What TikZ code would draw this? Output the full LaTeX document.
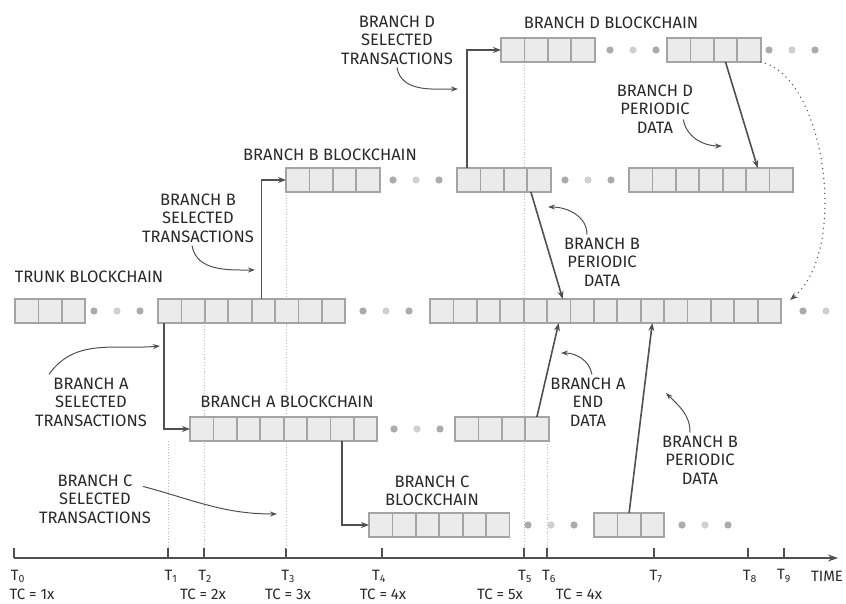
\documentclass[tikz,border=0pt]{standalone}
\usepackage{fontspec}
\setmainfont{Fira Sans}
\usetikzlibrary{arrows.meta}
\definecolor{ink}{HTML}{282828}
\definecolor{wire}{HTML}{505050}
\definecolor{cellfill}{HTML}{EBEBEB}
\definecolor{celledge}{HTML}{A4A4A4}
\definecolor{dotdark}{HTML}{ABABAB}
\definecolor{dotlight}{HTML}{D0D0D0}
\definecolor{guidegray}{HTML}{BDBDBD}

\begin{document}
\begin{tikzpicture}[x=1pt, y=-1pt,
  cell/.style={fill=cellfill, minimum width=23.4pt, minimum height=24pt, inner sep=0pt, outer sep=0pt},
  edge/.style={draw=celledge, line width=1.8pt},
  lab/.style={text=ink, align=center, inner sep=0pt, font=\fontsize{16.5}{18.5}\selectfont},
  tlab/.style={text=ink, inner sep=0pt, font=\fontsize{15}{16}\selectfont},
  link/.style={draw=wire, line width=1.6pt, -{Stealth[length=8pt,width=6pt]}},
  note/.style={draw=wire, line width=1pt, -{Stealth[length=7pt,width=5pt]}},
  guide/.style={draw=guidegray, line width=0.8pt, dotted}]
  \useasboundingbox (0,0) rectangle (846,604);

  % time axis
  \coordinate (ax0) at (14,558);
  \coordinate (ax1) at (838,558);
  \draw[draw=wire, line width=1.5pt, -{Stealth[length=10pt,width=7pt]}] (ax0) -- (ax1);
  \foreach \x/\lx [count=\i from 0] in {14/18, 168/171, 204/205, 286/288, 382/379, 524/525, 547/549, 654/656, 748/750, 784/784} {
    \coordinate (k\i) at (\x,548);
    \draw[draw=wire, line width=1.5pt] (k\i) -- (\x,558);
    \node[tlab] (tk\i) at (\lx,576) {T\textsubscript{\i}};
  }
  \node[tlab] (time) at (827,576) {TIME};
  \node[tlab] (tc1) at (32,594) {TC = 1x};
  \node[tlab] (tc2) at (203,594) {TC = 2x};
  \node[tlab] (tc3) at (288,594) {TC = 3x};
  \node[tlab] (tc4) at (383,594) {TC = 4x};
  \node[tlab] (tc5) at (500,594) {TC = 5x};
  \node[tlab] (tc6) at (579,594) {TC = 4x};

  % guide lines
  \draw[guide] (168,441) -- (k1);
  \draw[guide] (204,323) -- (k2);
  \draw[guide] (286,192) -- (k3);
  \draw[guide] (524,62) -- (k5);
  \draw[guide] (547,441) -- (k6);

  % blockchains
  \foreach \nm/\x/\y/\k in {t1/15/311/3, t2/158/311/8, t3/430/311/15, b1/286/180/4, b2/457/180/4, b3/629/180/7,
                            d1/501/50/4, d2/667/50/4, a1/190/429/8, a2/455/429/4, c1/369/525/6, c2/594/525/3} {
    \foreach \i in {1,...,\k}
      \node[cell] (\nm-\i) at (\x+\i*23.4-11.7,\y) {};
    \draw[edge] (\nm-1.north west) rectangle (\nm-\k.south east);
    \foreach \i in {2,...,\k}
      \draw[edge] (\nm-\i.north west) -- (\nm-\i.south west);
  }
  \foreach \x/\y in {94/311, 363/311, 393/180, 565/180, 610/50, 769/50, 394/429, 528/525, 682/525} {
    \fill[dotdark] (\x,\y) circle[radius=3.6pt];
    \fill[dotlight] (\x+23,\y) circle[radius=3.6pt];
    \fill[dotdark] (\x+46,\y) circle[radius=3.6pt];
  }
  \fill[dotdark] (803,311) circle[radius=3.6pt];
  \fill[dotlight] (826,311) circle[radius=3.6pt];

  % branching and data links
  \draw[link] ([xshift=-6pt]t2-1.south) |- (a1-1.west);
  \draw[link] ([xshift=-2pt]t2-5.north) |- (b1-1.west);
  \draw[link] (a1-7.south) |- (c1-1.west);
  \draw[link] ([xshift=-2pt]b2-1.north) |- (d1-1.west);
  \draw[link] (d2-3.south) -- (b3-6.north);
  \draw[link] ([xshift=-8pt]b2-4.south) -- ([xshift=4pt]t3-6.north);
  \draw[link] (a2-4.north) -- (t3-6.south);
  \draw[link] (c2-2.north) -- (t3-10.south);
  \draw[link, line width=1.5pt, line cap=round, dash pattern=on 0pt off 5pt] (d2-4.south east) .. controls (825,75) and (850,250) .. ([xshift=9pt,yshift=-1pt]t3-15.north east);

  % labels
  \node[lab] (ldb) at (611,23) {BRANCH D BLOCKCHAIN};
  \node[lab] (lbb) at (330,155) {BRANCH B BLOCKCHAIN};
  \node[lab] (ltb) at (89,277) {TRUNK BLOCKCHAIN};
  \node[lab] (lab) at (287,402) {BRANCH A BLOCKCHAIN};
  \node[lab] (lcb) at (432,491) {BRANCH C\\BLOCKCHAIN};
  \node[lab] (lsd) at (397,40) {BRANCH D\\SELECTED\\TRANSACTIONS};
  \node[lab] (lsb) at (198,218) {BRANCH B\\SELECTED\\TRANSACTIONS};
  \node[lab] (lsa) at (91,402) {BRANCH A\\SELECTED\\TRANSACTIONS};
  \node[lab] (lsc) at (95,499) {BRANCH C\\SELECTED\\TRANSACTIONS};
  \node[lab] (lpd) at (655,109) {BRANCH D\\PERIODIC\\DATA};
  \node[lab] (lpb) at (602,262) {BRANCH B\\PERIODIC\\DATA};
  \node[lab] (lea) at (588,402) {BRANCH A\\END\\DATA};
  \node[lab] (lpc) at (700,460) {BRANCH B\\PERIODIC\\DATA};

  % pointers
  \coordinate (tipsd) at (458,89);
  \coordinate (tipsb) at (255,270);
  \coordinate (tipsa) at (160,346);
  \coordinate (tipsc) at (277,514);
  \coordinate (tippd) at (722,146);
  \coordinate (tippb) at (548,207);
  \coordinate (tipea) at (561,353);
  \coordinate (tippc) at (666,393);
  \draw[note] ([yshift=-3pt]lsd.south) to[out=-80,in=180] (tipsd);
  \draw[note] ([xshift=-6pt,yshift=-3pt]lsb.south) to[out=-80,in=180] (tipsb);
  \draw[note] ([xshift=-42pt,yshift=3pt]lsa.north) to[out=55,in=185] (tipsa);
  \draw[note] ([xshift=48pt,yshift=-12pt]lsc.north) to[out=-15,in=180] (tipsc);
  \draw[note] ([xshift=-10pt,yshift=14pt]lpd.south east) to[out=-80,in=180] (tippd);
  \draw[note] ([xshift=-15pt,yshift=3pt]lpb.north) to[out=90,in=0] (tippb);
  \draw[note] ([xshift=4pt,yshift=3pt]lea.north) to[out=100,in=0] (tipea);
  \draw[note] ([xshift=-10pt,yshift=3pt]lpc.north) to[out=90,in=-45] (tippc);
\end{tikzpicture}
\end{document}
